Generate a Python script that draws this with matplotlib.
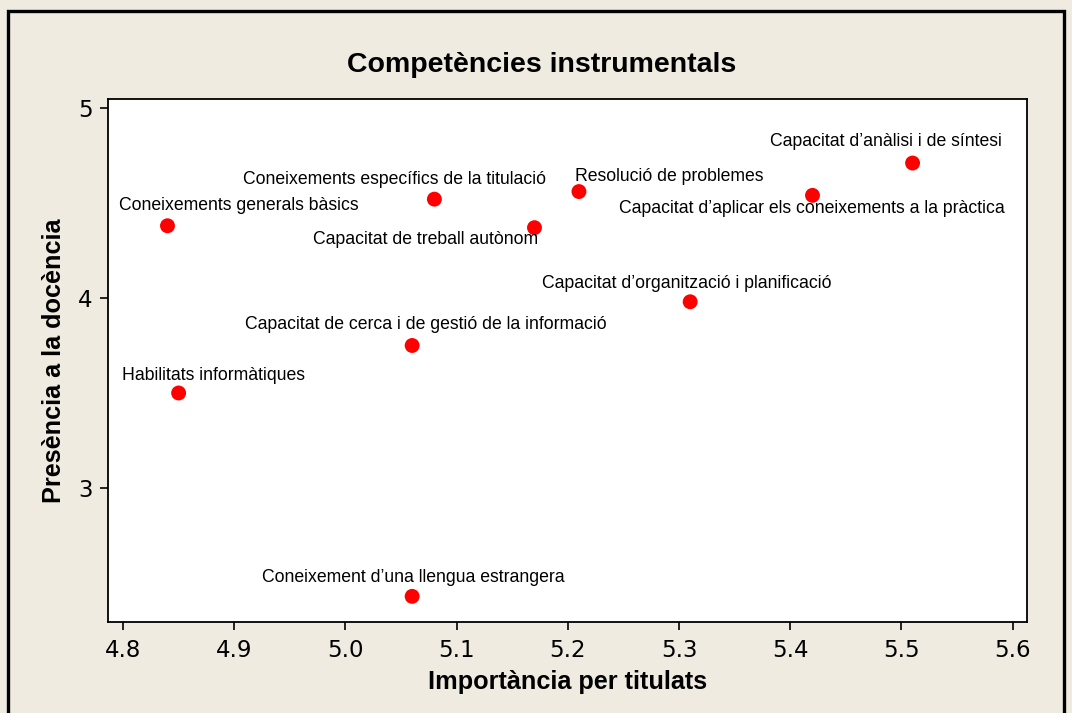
import matplotlib.pyplot as plt
from matplotlib.patches import Rectangle

# data
labels = [
    "Capacitat d\u2019anàlisi i de síntesi",
    "Capacitat d\u2019aplicar els coneixements a la pràctica",
    "Resolució de problemes",
    "Capacitat de treball autònom",
    "Capacitat d\u2019organització i planificació",
    "Coneixements específics de la titulació",
    "Coneixements generals bàsics",
    "Capacitat de cerca i de gestió de la informació",
    "Habilitats informàtiques",
    "Coneixement d\u2019una llengua estrangera",
]
importancia = [5.51, 5.42, 5.21, 5.17, 5.31, 5.08, 4.84, 5.06, 4.85, 5.06]
presencia = [4.71, 4.54, 4.56, 4.37, 3.98, 4.52, 4.38, 3.75, 3.50, 2.43]

# label placement (offset in pixels from the dot, horizontal alignment)
offsets = [
    (89, 22, 'right'),
    (192, -13, 'right'),
    (-4, 15, 'left'),
    (4, -12, 'right'),
    (-3, 18, 'center'),
    (-40, 20, 'center'),
    (-48, 20, 'left'),
    (14, 21, 'center'),
    (-57, 17, 'left'),
    (1, 19, 'center'),
]

bg = '#f0ebe1'
txt_font = ['Liberation Sans', 'DejaVu Sans']

fig = plt.figure(figsize=(10.72, 7.13), dpi=100, facecolor=bg)
ax = fig.add_axes([108 / 1072, 1 - 622 / 713, 919 / 1072, 523 / 713])
ax.set_facecolor('white')

ax.scatter(importancia, presencia, s=115, color='#ff0000', edgecolors='none', zorder=3)
for lab, x, y, (dx, dy, ha) in zip(labels, importancia, presencia, offsets):
    ax.annotate(lab, (x, y), xytext=(dx, dy), textcoords='offset pixels',
                ha=ha, va='center', fontsize=12.7, family=txt_font)

ax.set_xlim(4.7865, 5.6129)
ax.set_ylim(2.295, 5.047)
ax.set_xticks([4.8, 4.9, 5.0, 5.1, 5.2, 5.3, 5.4, 5.5, 5.6])
ax.set_xticklabels(['4.8', '4.9', '5.0', '5.1', '5.2', '5.3', '5.4', '5.5', '5.6'])
ax.set_yticks([3, 4, 5])
ax.tick_params(direction='out', length=6, width=1.2, labelsize=16.5, pad=5)
ax.tick_params(axis='x', pad=6)
for lbl in ax.get_xticklabels() + ax.get_yticklabels():
    lbl.set_family(['DejaVu Sans'])
for sp in ax.spines.values():
    sp.set_linewidth(1.3)

ax.set_xlabel('Importància per titulats', fontsize=18.2, fontweight='bold', family=txt_font, labelpad=6)
ax.set_ylabel('Presència a la docència', fontsize=18.2, fontweight='bold', family=txt_font, labelpad=9)

fig.text(542 / 1072, 1 - 65 / 713, 'Competències instrumentals', ha='center', va='center',
         fontsize=20.5, fontweight='bold', family=txt_font)

fig.patches.append(Rectangle((8 / 1072, -0.02), 1056 / 1072, 1 - 11 / 713 + 0.02,
                             transform=fig.transFigure, fill=False, edgecolor='black',
                             linewidth=2.4))

fig.savefig('out.png', dpi=100, facecolor=bg)
